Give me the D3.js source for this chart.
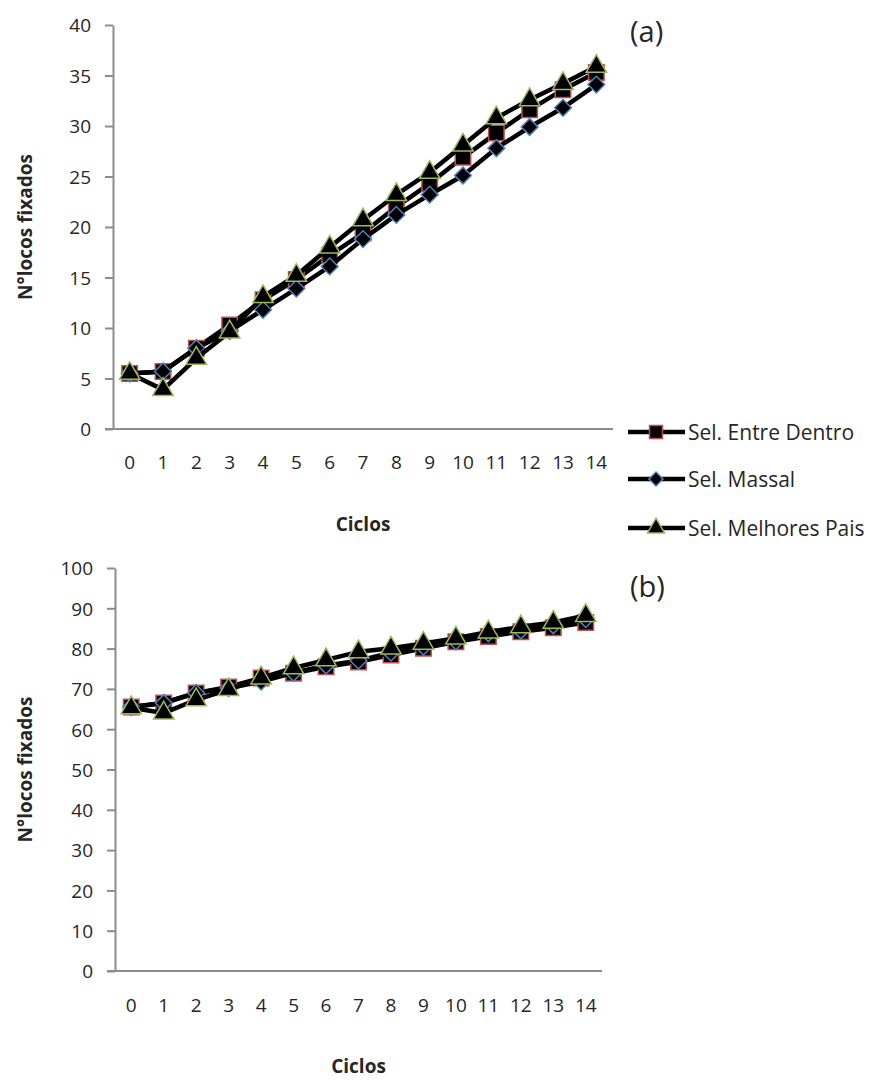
<!DOCTYPE html>
<meta charset="utf-8">
<style>
    body { margin: 0; background: #fff; }
    text { font-family: "Open Sans", sans-serif; fill: #262626; }
    .axis path, .axis line { stroke: #8c8c8c; stroke-width: 2px; }
    .axis text { font-size: 19px; }
    .title { font-size: 19px; font-weight: bold; }
</style>
<body>
<svg width="888" height="1081"></svg>
<script src="https://d3js.org/d3.v7.min.js"></script>
<script>

    // values
    var ciclos = [0, 1, 2, 3, 4, 5, 6, 7, 8, 9, 10, 11, 12, 13, 14];

    var entreDentroA = [5.5, 5.7, 8.0, 10.3, 12.8, 14.8, 17.2, 19.4, 22.0, 24.3, 26.9, 29.3, 31.6, 33.6, 35.3];
    var massalA = [5.5, 5.7, 8.0, 9.7, 11.8, 13.9, 16.1, 18.8, 21.2, 23.2, 25.1, 27.8, 29.9, 31.8, 34.1];
    var melhoresPaisA = [5.5, 3.9, 7.0, 9.6, 13.1, 15.2, 18.0, 20.7, 23.2, 25.4, 28.1, 30.8, 32.6, 34.2, 35.9];

    var entreDentroB = [65.5, 66.5, 69.0, 70.5, 72.7, 73.9, 75.5, 76.7, 78.4, 80.1, 81.7, 83.0, 84.2, 85.2, 86.5];
    var massalB = [65.5, 66.5, 69.0, 70.2, 71.8, 74.0, 75.8, 77.0, 79.0, 80.5, 81.8, 83.8, 84.5, 85.8, 87.3];
    var melhoresPaisB = [65.3, 64.0, 67.3, 69.8, 72.7, 75.2, 77.2, 79.2, 80.1, 81.3, 82.6, 84.1, 85.4, 86.5, 88.2];

    var ticksA = [0, 5, 10, 15, 20, 25, 30, 35, 40];
    var ticksB = [0, 10, 20, 30, 40, 50, 60, 70, 80, 90, 100];

    var seriesNames = ["Sel. Entre Dentro", "Sel. Massal", "Sel. Melhores Pais"];

    var svg = d3.select("svg");

    // marker look per series: square / diamond / triangle
    var markers = [
        {sym: d3.symbolSquare, size: 240, edge: "#c0504d", rot: 0},
        {sym: d3.symbolSquare, size: 140, edge: "#4f81bd", rot: 45},
        {sym: d3.symbolTriangle, size: 180, edge: "#9bbb59", rot: 0}
    ];

    function drawChart(opt) {
        var x = d3.scaleBand().domain(ciclos).range([opt.x0, opt.x1]);
        var y = d3.scaleLinear().domain([0, opt.max]).range([opt.y0, opt.y1]);
        var cx = function (d, i) { return x(ciclos[i]) + x.bandwidth() / 2; };

        var g = svg.append("g");

        g.append("g")
            .attr("class", "axis")
            .attr("transform", "translate(" + opt.x0 + ",0)")
            .call(d3.axisLeft(y).tickValues(opt.ticks).tickSize(8).tickSizeOuter(0).tickPadding(14))
            .call(function (a) { a.selectAll("text").attr("dy", "0.36em"); });

        g.append("g")
            .attr("class", "axis")
            .attr("transform", "translate(0," + opt.y0 + ")")
            .call(d3.axisBottom(x).tickSize(0).tickPadding(opt.labelPad))
            .call(function (a) { a.select(".domain").attr("d", "M" + (opt.x0 - 8) + ",0H" + opt.x1); });

        var line = d3.line().x(cx).y(function (d) { return y(d); });

        opt.series.forEach(function (vals, s) {
            g.append("path")
                .datum(vals)
                .attr("d", line)
                .attr("fill", "none")
                .attr("stroke", "#000")
                .attr("stroke-width", 4.5)
                .attr("stroke-linejoin", "round");

            var m = markers[s];
            g.selectAll(null)
                .data(vals)
                .enter().append("path")
                .attr("d", d3.symbol().type(m.sym).size(m.size))
                .attr("transform", function (d, i) {
                    return "translate(" + cx(d, i) + "," + y(d) + ") rotate(" + m.rot + ")";
                })
                .attr("fill", "#000")
                .attr("stroke", m.edge)
                .attr("stroke-width", 1.5);
        });

        g.append("text")
            .attr("class", "title")
            .attr("x", (opt.x0 + opt.x1) / 2)
            .attr("y", opt.xTitleY)
            .attr("text-anchor", "middle")
            .text("Ciclos");

        g.append("text")
            .attr("class", "title")
            .attr("transform", "translate(32," + (opt.y0 + opt.y1) / 2 + ") rotate(-90)")
            .attr("text-anchor", "middle")
            .text("N°locos fixados");

        g.append("text")
            .attr("x", 630)
            .attr("y", opt.tagY)
            .style("font-size", "29px")
            .text(opt.tag);
    }

    drawChart({
        x0: 113, x1: 613, y0: 429, y1: 25, max: 40, ticks: ticksA, labelPad: 27,
        series: [entreDentroA, massalA, melhoresPaisA],
        xTitleY: 531, tag: "(a)", tagY: 42
    });

    drawChart({
        x0: 115, x1: 602, y0: 971, y1: 568, max: 100, ticks: ticksB, labelPad: 28,
        series: [entreDentroB, massalB, melhoresPaisB],
        xTitleY: 1073, tag: "(b)", tagY: 597
    });

    // legend
    var legendY = [432, 479, 528];
    var legend = svg.append("g").selectAll("g")
        .data(seriesNames)
        .enter().append("g")
        .attr("transform", function (d, i) { return "translate(628," + legendY[i] + ")"; });

    legend.append("line")
        .attr("x1", 0).attr("x2", 57)
        .attr("stroke", "#000").attr("stroke-width", 4.5);

    legend.append("path")
        .attr("d", function (d, i) { return d3.symbol().type(markers[i].sym).size(markers[i].size * 0.7)(); })
        .attr("transform", function (d, i) { return "translate(28,0) rotate(" + markers[i].rot + ")"; })
        .attr("fill", "#000")
        .attr("stroke", function (d, i) { return markers[i].edge; })
        .attr("stroke-width", 1.5);

    legend.append("text")
        .attr("x", 60)
        .attr("dy", "0.36em")
        .style("font-size", "21px")
        .text(function (d) { return d; });

</script>
</body>
